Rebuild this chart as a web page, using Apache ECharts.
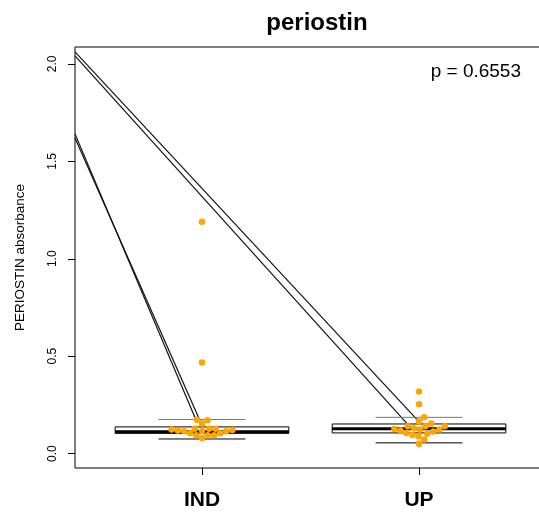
<!DOCTYPE html>
<html>
<head>
<meta charset="utf-8">
<script src="https://cdn.jsdelivr.net/npm/echarts@6/dist/echarts.min.js"></script>
<style>
html,body{margin:0;padding:0;background:#fff;}
#chart{width:539px;height:521px;}
</style>
</head>
<body>
<div id="chart"></div>
<script>
// ---- data ----
const categories = ['IND', 'UP'];
const indValues = [0.080, 0.094, 0.094, 0.094, 0.104, 0.104, 0.114, 0.114, 0.116, 0.118,
                   0.121, 0.123, 0.128, 0.128, 0.128, 0.154, 0.171, 0.174, 0.468, 1.190];
const upValues  = [0.051, 0.072, 0.089, 0.096, 0.102, 0.106, 0.113, 0.118, 0.123, 0.123,
                   0.126, 0.130, 0.140, 0.140, 0.140, 0.155, 0.165, 0.186, 0.253, 0.319];
// box stats: [min, q1, median, q3, max]
const indBox = [0.075, 0.104, 0.112, 0.137, 0.175];
const upBox  = [0.055, 0.106, 0.127, 0.152, 0.186];
const yTicks = [0, 0.5, 1.0, 1.5, 2.0];
const xTicks = [1, 2];
// segments drawn across the panel (x in group units, y in absorbance)
const segUpA  = [[0.415, 2.062], [1.991, 0.174]];
const segUpB  = [[0.415, 2.041], [1.949, 0.149]];
const segIndA = [[0.415, 1.641], [0.972, 0.174]];
const segIndB = [[0.415, 1.620], [0.991, 0.169]];
const titleText = 'periostin';
const pText = 'p = 0.6553';
const yName = 'PERIOSTIN absorbance';

// ---- style constants ----
const FONT = 'Liberation Sans, Arial, sans-serif';
const BOX_HALF = 0.4, CAP_HALF = 0.2;
const DOT = 6.5;

const chart = echarts.init(document.getElementById('chart'), null, {renderer: 'canvas'});

function renderBox(params, api) {
  const x = api.value(0);
  const lo = api.coord([x - BOX_HALF, api.value(2)]);
  const hi = api.coord([x + BOX_HALF, api.value(4)]);
  const md = api.coord([x, api.value(3)]);
  const bl = api.coord([x - CAP_HALF, api.value(1)]);
  const br = api.coord([x + CAP_HALF, api.value(1)]);
  const tl = api.coord([x - CAP_HALF, api.value(5)]);
  const tr = api.coord([x + CAP_HALF, api.value(5)]);
  return {type: 'group', children: [
    {type: 'line', shape: {x1: bl[0], y1: bl[1], x2: br[0], y2: br[1]}, style: {stroke: '#000', lineWidth: 1}},
    {type: 'line', shape: {x1: tl[0], y1: tl[1], x2: tr[0], y2: tr[1]}, style: {stroke: '#777', lineWidth: 1}},
    {type: 'rect', shape: {x: lo[0], y: hi[1], width: hi[0] - lo[0], height: lo[1] - hi[1]},
      style: {fill: '#fff', stroke: '#000', lineWidth: 1}},
    {type: 'line', shape: {x1: lo[0], y1: md[1], x2: hi[0], y2: md[1]}, style: {stroke: '#000', lineWidth: 3}}
  ]};
}

function segSeries(seg) {
  return {type: 'line', data: seg, symbol: 'none', silent: true, z: 1,
    lineStyle: {color: '#111', width: 1.2}, animation: false};
}

const option = {
  animation: false,
  textStyle: {fontFamily: FONT},
  grid: {left: 75, top: 47, width: 471, height: 421, outerBoundsMode: 'none', containLabel: false,
    show: true, borderColor: '#000', borderWidth: 1, backgroundColor: 'transparent'},
  xAxis: {
    type: 'value', min: 0.415, max: 2.585,
    axisLine: {show: false, onZero: false},
    splitLine: {show: false},
    axisTick: {show: true, customValues: xTicks, length: 7, lineStyle: {color: '#000'}},
    axisLabel: {customValues: xTicks, formatter: v => categories[Math.round(v) - 1],
      fontSize: 21, fontWeight: 'bold', color: '#000', margin: 22, fontFamily: FONT}
  },
  yAxis: {
    type: 'value', min: -0.074, max: 2.087,
    axisLine: {show: false, onZero: false},
    splitLine: {show: false},
    axisTick: {show: true, customValues: yTicks, length: 7, lineStyle: {color: '#000'}},
    axisLabel: {customValues: yTicks, formatter: v => v.toFixed(1), rotate: 90,
      fontSize: 12, color: '#000', margin: 16, fontFamily: FONT},
    name: yName, nameLocation: 'middle', nameGap: 48,
    nameTextStyle: {fontSize: 13.5, color: '#000', fontFamily: FONT}
  },
  graphic: [
    {type: 'text', x: 317, y: 23, style: {text: titleText, font: 'bold 24px ' + FONT,
      fill: '#000', textAlign: 'center', textVerticalAlign: 'middle'}},
    {type: 'text', x: 521, y: 72, style: {text: pText, font: '19px ' + FONT,
      fill: '#000', textAlign: 'right', textVerticalAlign: 'middle'}}
  ],
  series: [
    segSeries(segUpA), segSeries(segUpB), segSeries(segIndA), segSeries(segIndB),
    {type: 'custom', renderItem: renderBox, z: 2, silent: true,
      data: [[1].concat(indBox), [2].concat(upBox)]},
    {type: 'scatter', id: 'dots', data: [], symbol: 'circle', symbolSize: DOT, z: 3,
      itemStyle: {color: '#FFA500', opacity: 1}}
  ]
};
chart.setOption(option);

// beeswarm ("swarm", ascending priority) layout using the chart's own scales
const p0 = chart.convertToPixel({gridIndex: 0}, [0, 0]);
const p1 = chart.convertToPixel({gridIndex: 0}, [1, 1]);
const xPx = p1[0] - p0[0];
const yPx = p0[1] - p1[1];
const SX = 6.3, SY = 6.8;

function swarm(vals) {
  const order = vals.map((v, i) => i).sort((a, b) => vals[a] - vals[b]);
  const placed = [];
  const off = new Array(vals.length);
  for (const i of order) {
    const y = vals[i] * yPx;
    const cands = [0];
    for (const p of placed) {
      const dy = Math.abs(p.y - y) / SY;
      if (dy < 1) {
        const dx = SX * Math.sqrt(1 - dy * dy);
        cands.push(p.x + dx, p.x - dx);
      }
    }
    cands.sort((a, b) => Math.abs(a) - Math.abs(b));
    for (const c of cands) {
      const ok = placed.every(p => {
        const ddx = (p.x - c) / SX, ddy = (p.y - y) / SY;
        return ddx * ddx + ddy * ddy >= 1 - 1e-6;
      });
      if (ok) { off[i] = c; placed.push({x: c, y: y}); break; }
    }
  }
  return off;
}

function dots(vals, center) {
  const off = swarm(vals);
  return vals.map((v, i) => [center + off[i] / xPx, v]);
}

chart.setOption({series: [{id: 'dots', data: dots(indValues, 1).concat(dots(upValues, 2))}]});
</script>
</body>
</html>
